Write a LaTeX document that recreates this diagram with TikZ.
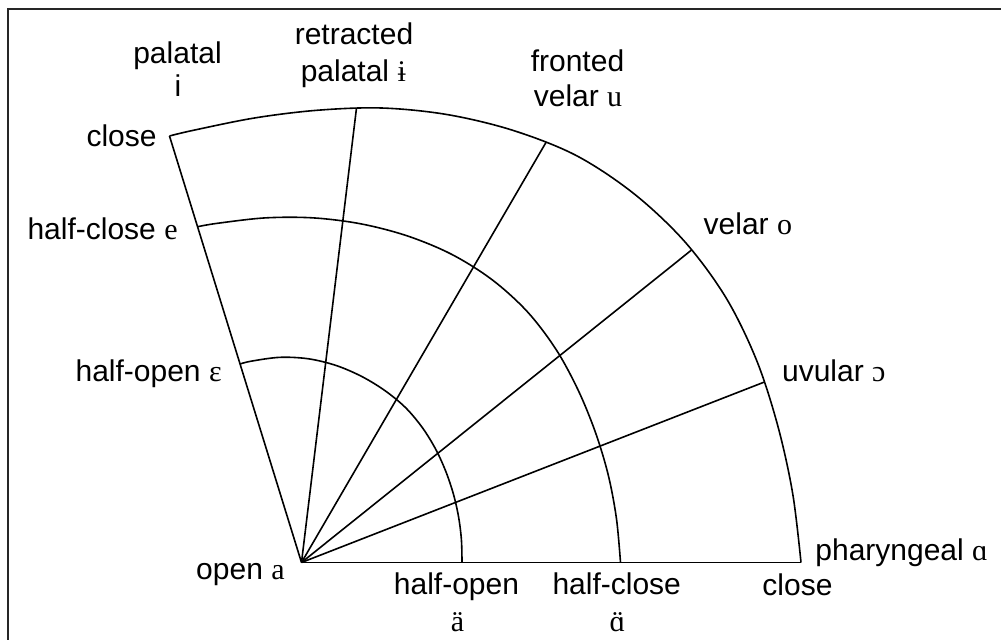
\documentclass[tikz,border=0pt]{standalone}
\usepackage{fontspec}
\setmainfont{Liberation Sans}
\newfontfamily\ipa{Liberation Serif}
\begin{document}
\begin{tikzpicture}[x=0.5pt,y=-0.5pt,
  lbl/.style={inner sep=0pt, font=\fontsize{15}{18}\selectfont},
  grid/.style={line width=0.8pt, black},
  frameline/.style={line width=1pt, black!85}]
\useasboundingbox (0,0) rectangle (1001,640);
\draw[frameline] (8.3,640) -- (8.3,9.3) -- (1001,9.3);
% centre
\coordinate (C) at (301.5,562.5);
\begin{scope}[shift={(C)}]
  % outer end points (close row)
  \coordinate (o1) at (-107.2:446.5);
  \coordinate (o2) at (-83.1:458);
  \coordinate (o3) at (-59.8:486.5);
  \coordinate (o4) at (-38.7:500);
  \coordinate (o5) at (-21.3:497);
  \coordinate (o6) at (0:499.5);
  % outer arc
  \draw[grid] plot[smooth,tension=0.55] coordinates {(o1) (-104:445.5) (-96:447) (-88:452.5) (-80:461.5) (-72:471) (-64:481) (-56:491) (-48:496.5) (-40:499.8) (-32:500.3) (-24:498) (-16:495.5) (-8:496) (o6)};
  % half-close arc
  \draw[grid] plot[smooth,tension=0.55] coordinates {(-107.2:351.5) (-104:349.5) (-96:346.5) (-88:344.8) (-80:343.8) (-72:343.3) (-64:342.8) (-56:341) (-48:337.5) (-40:332) (-32:326) (-24:321.5) (-16:319) (-8:318) (0:319)};
  % half-open arc
  \draw[grid] plot[smooth,tension=0.55] coordinates {(-107.2:207.8) (-104:207.5) (-96:206.3) (-88:203.8) (-80:200) (-72:195.5) (-64:191) (-56:186.5) (-48:181) (-40:175.5) (-32:170.5) (-24:166.5) (-16:163.5) (-8:161.5) (0:160.5)};
\end{scope}
% radial lines
\foreach \k in {1,...,6} \draw[grid] (C) -- (o\k);
% labels
\node[lbl,anchor=base] (palatal) at (177.5,63.5) {palatal};
\node[lbl,anchor=base] (palI) at (178,96.7) {i};
\node[lbl,anchor=base] (retr) at (354,45) {retracted};
\node[lbl,anchor=base] (retrP) at (353.3,81.7) {palatal {\ipa ɨ}};
\node[lbl,anchor=base] (front) at (577.5,71.7) {fronted};
\node[lbl,anchor=base] (frontV) at (578,106.7) {velar {\ipa u}};
\node[lbl,anchor=base east] (closeL) at (157,147) {close};
\node[lbl,anchor=base east] (hce) at (178,240) {half-close {\ipa e}};
\node[lbl,anchor=base east] (hoe) at (222,381.7) {half-open {\ipa ɛ}};
\node[lbl,anchor=base east] (opena) at (285,579.5) {open {\ipa a}};
\node[lbl,anchor=base] (ho) at (456.5,595) {half-open};
\node[lbl,anchor=base] (hoa) at (457.5,631.7) {\ipa ä};
\node[lbl,anchor=base] (hc) at (616.7,595) {half-close};
\node[lbl,anchor=base] (hca) at (617.5,631.7) {\ipa\accent"A8 ɑ};
\node[lbl,anchor=base] (closeR) at (797.5,596) {close};
\node[lbl,anchor=base west] (phar) at (815,560) {pharyngeal {\ipa ɑ}};
\node[lbl,anchor=base west] (uvu) at (781.7,381.7) {uvular {\ipa ɔ}};
\node[lbl,anchor=base west] (vel) at (703.3,235) {velar {\ipa o}};
\end{tikzpicture}
\end{document}
